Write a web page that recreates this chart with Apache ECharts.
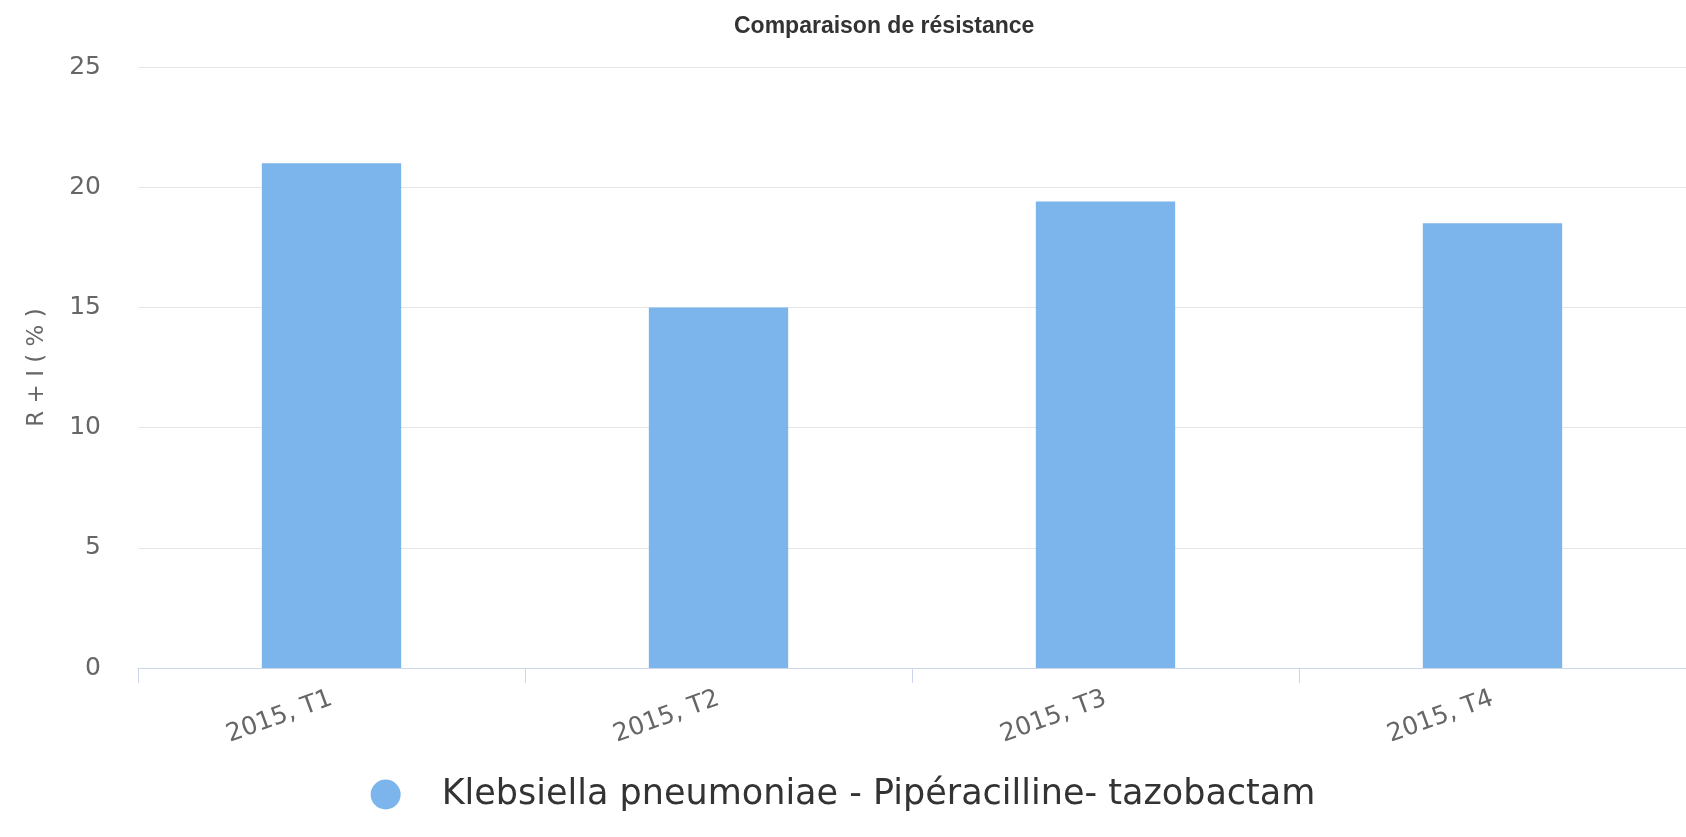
<!DOCTYPE html>
<html>
<head>
<meta charset="utf-8">
<title>Comparaison de résistance</title>
<script src="https://cdn.jsdelivr.net/npm/echarts@6/dist/echarts.min.js"></script>
<style>
    html, body { margin: 0; padding: 0; background: #fff; }
    .bar { width: 1686px; height: 837px; }
</style>
</head>
<body>
<div class="bar"></div>
<script>
// data
var categories = ['2015, T1', '2015, T2', '2015, T3', '2015, T4'];
var resistance = [21.0, 15.0, 19.4, 18.5];
var seriesName = 'Klebsiella pneumoniae - Pipéracilline- tazobactam';
var yMin = 0, yMax = 25, yStep = 5;

(function() {
    // 1.实例化对象
    var myChart = echarts.init(document.querySelector('.bar'));
    var font = 'DejaVu Sans';
    // 2.指定配置项和数据
    var option = {
        title: {
            text: 'Comparaison de résistance',
            left: 729,
            top: 10,
            textStyle: {
                fontFamily: 'Liberation Sans',
                fontSize: 23,
                fontWeight: 'bold',
                color: '#333'
            }
        },
        legend: {
            data: [seriesName],
            left: 'center',
            top: 772,
            icon: 'circle',
            itemWidth: 30,
            itemHeight: 30,
            textStyle: {
                fontFamily: font,
                fontSize: 35,
                color: '#333',
                padding: [0, 0, 0, 36]
            }
        },
        grid: {
            left: 138,
            right: 0,
            top: 67,
            bottom: 169
        },
        xAxis: {
            type: 'category',
            data: categories,
            axisLine: {
                lineStyle: { color: '#ccd6eb', width: 1 }
            },
            axisTick: {
                show: true,
                length: 15,
                lineStyle: { color: '#ccd6eb' }
            },
            axisLabel: {
                rotate: 20,
                margin: 30,
                fontFamily: font,
                fontSize: 25,
                color: '#666'
            }
        },
        yAxis: {
            type: 'value',
            min: yMin,
            max: yMax,
            interval: yStep,
            name: 'R + I ( % )',
            nameLocation: 'middle',
            nameRotate: 90,
            nameGap: 89,
            nameTextStyle: {
                fontFamily: font,
                fontSize: 23,
                color: '#666'
            },
            axisLine: { show: false },
            axisTick: { show: false },
            axisLabel: {
                margin: 37,
                fontFamily: font,
                fontSize: 25,
                color: '#666'
            },
            splitLine: {
                lineStyle: { color: '#e6e6e6', width: 1 }
            }
        },
        series: [{
            name: seriesName,
            type: 'bar',
            barWidth: '36%',
            itemStyle: { color: '#7cb5ec' },
            data: resistance
        }]
    };
    // 3.把配置给实例对象
    myChart.setOption(option);
})();
</script>
</body>
</html>
